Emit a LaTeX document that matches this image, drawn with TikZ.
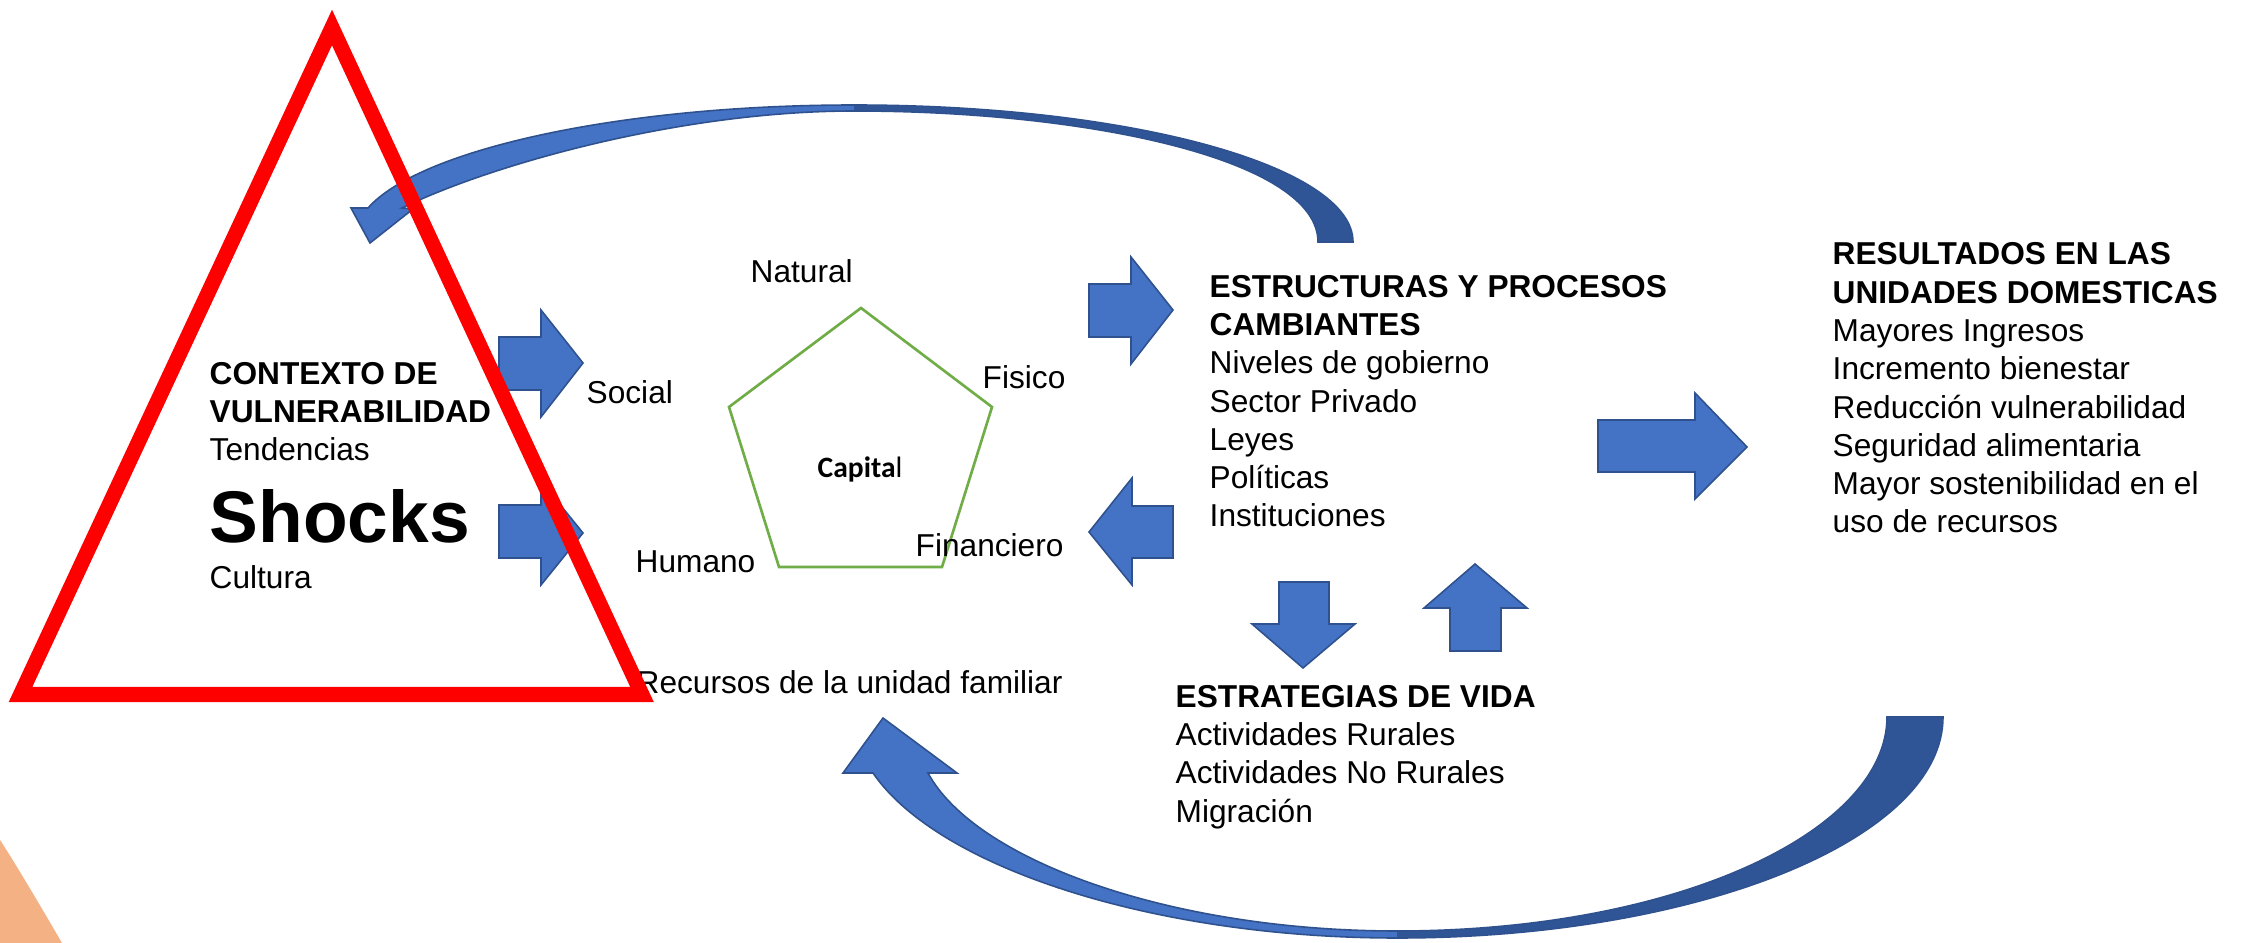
\documentclass[tikz,border=0pt]{standalone}
\usepackage{fontspec}
\setmainfont{Liberation Sans}
\newfontfamily\calibri{Carlito}
\definecolor{ablue}{RGB}{68,114,196}
\definecolor{adark}{RGB}{47,85,151}
\definecolor{aedge}{RGB}{47,82,143}
\definecolor{agreen}{RGB}{112,173,71}
\definecolor{aorange}{RGB}{244,177,131}
\definecolor{ared}{RGB}{255,0,0}
\begin{document}
\begin{tikzpicture}[x=0.01cm,y=-0.01cm,
  blockarrow/.style={fill=ablue,draw=aedge,line width=0.45pt,line join=miter},
  edgeline/.style={draw=aedge,line width=0.45pt},
  txt/.style={anchor=base west,inner sep=0pt,align=left,font=\fontsize{9pt}{10.9pt}\selectfont},
  lbl/.style={anchor=base west,inner sep=0pt,font=\fontsize{9pt}{10.9pt}\selectfont}]
\useasboundingbox (0,0) rectangle (2251,943);
\fill[white] (0,0) rectangle (2251,943);
% orange corner
\fill[aorange] (0,840) .. controls (12,858) and (40,905) .. (62,943) -- (0,943) -- cycle;
% straight block arrows
\path[blockarrow] (499,337) -- (541,337) -- (541,310) -- (583,363) -- (541,417) -- (541,390) -- (499,390) -- cycle;
\path[blockarrow] (499,505) -- (541,505) -- (541,481) -- (583,533) -- (541,585) -- (541,558) -- (499,558) -- cycle;
\path[blockarrow] (1089,284) -- (1131,284) -- (1131,257) -- (1173,310) -- (1131,364) -- (1131,337) -- (1089,337) -- cycle;
\path[blockarrow] (1173,506) -- (1132,506) -- (1132,478) -- (1089,532) -- (1132,585) -- (1132,558) -- (1173,558) -- cycle;
\path[blockarrow] (1279,582) -- (1329,582) -- (1329,624) -- (1355,624) -- (1303,668) -- (1252,624) -- (1279,624) -- cycle;
\path[blockarrow] (1450,651) -- (1450,608) -- (1424,608) -- (1475,564) -- (1527,608) -- (1501,608) -- (1501,651) -- cycle;
\path[blockarrow] (1598,420) -- (1695,420) -- (1695,393) -- (1747,447) -- (1695,499) -- (1695,472) -- (1598,472) -- cycle;
% top curved arrow
\fill[ablue] (854,105) .. controls (622,105) and (420,149) .. (368,208) -- (351,208) -- (370,243) -- (413,209) -- (402,208) .. controls (490,165) and (680,111) .. (854,111) -- cycle;
\fill[adark] (854,105) .. controls (1130,105) and (1353,166) .. (1353,242) -- (1318,242) .. controls (1318,160) and (1090,111) .. (854,111) -- cycle;
\path[edgeline] (1353,242) .. controls (1353,166) and (1130,105) .. (854,105) .. controls (622,105) and (420,149) .. (368,208) -- (351,208) -- (370,243) -- (413,209) -- (402,208) .. controls (490,165) and (680,111) .. (854,111) .. controls (1090,111) and (1318,160) .. (1318,242) -- cycle;
% bottom curved arrow
\fill[ablue] (1397,938) .. controls (1155,938) and (938,868) .. (873,773) -- (843,773) -- (883,718) -- (957,773) -- (928,773) .. controls (975,860) and (1170,931) .. (1397,931) -- cycle;
\fill[adark] (1397,938) .. controls (1699,938) and (1943,839) .. (1943,717) -- (1887,717) .. controls (1887,830) and (1680,931) .. (1397,931) -- cycle;
\path[edgeline] (1943,717) .. controls (1943,839) and (1699,938) .. (1397,938) .. controls (1155,938) and (938,868) .. (873,773) -- (843,773) -- (883,718) -- (957,773) -- (928,773) .. controls (975,860) and (1170,931) .. (1397,931) .. controls (1680,931) and (1887,830) .. (1887,717) -- cycle;
% pentagon
\draw[agreen,line width=0.75pt] (861,308) -- (992,407) -- (942,567) -- (779,567) -- (729,407) -- cycle;
% texts (multi-line nodes anchored at the baseline of their last line)
\node[txt] (ctx) at (209,461) {\bfseries CONTEXTO DE\\\bfseries VULNERABILIDAD\\Tendencias};
\node[anchor=base west,inner sep=0pt,font=\fontsize{20.8pt}{24pt}\selectfont\bfseries] (shocks) at (209,543) {Shocks};
\node[lbl] (cultura) at (209,589) {Cultura};
\node[lbl] (social) at (586,404) {Social};
\node[lbl] (natural) at (750,283) {Natural};
\node[lbl] (fisico) at (982,389) {Fisico};
\node[anchor=base,inner sep=0pt,font=\fontsize{8.4pt}{10pt}\selectfont\calibri] (capital) at (860,478) {\textbf{Capita}l};
\node[lbl] (fin) at (915,557) {Financiero};
\node[lbl] (humano) at (635,573) {Humano};
\node[lbl] (recursos) at (636,693) {Recursos de la unidad familiar};
\node[txt] (estr) at (1209,527) {\bfseries ESTRUCTURAS Y PROCESOS\\\bfseries CAMBIANTES\\Niveles de gobierno\\Sector Privado\\Leyes\\Políticas\\Instituciones};
\node[txt] (vida) at (1175,822) {\bfseries ESTRATEGIAS DE VIDA\\Actividades Rurales\\Actividades No Rurales\\Migración};
\node[txt] (res) at (1832,533) {\bfseries RESULTADOS EN LAS\\\bfseries UNIDADES DOMESTICAS\\Mayores Ingresos\\Incremento bienestar\\Reducción vulnerabilidad\\Seguridad alimentaria\\Mayor sostenibilidad en el\\uso de recursos};
% red triangle
\draw[ared,line width=0.15cm,line join=miter] (332,27.5) -- (20.5,694.5) -- (642,694.5) -- cycle;
\end{tikzpicture}
\end{document}
